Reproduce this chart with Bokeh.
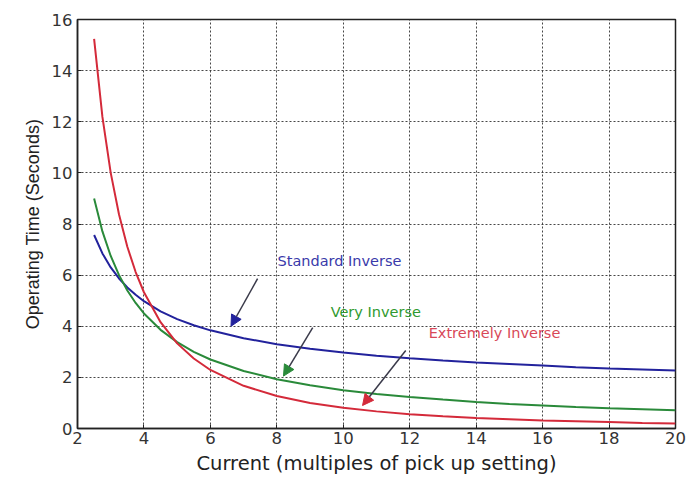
from bokeh.plotting import figure
from bokeh.models import Arrow, NormalHead, Label, FixedTicker, Range1d
from bokeh.embed import file_html
from bokeh.resources import INLINE

# Current, multiples of pick-up setting
current = [2.5, 2.75, 3, 3.25, 3.5, 3.75, 4, 4.5, 5, 5.5, 6, 7, 8, 9, 10,
           11, 12, 13, 14, 15, 16, 17, 18, 19, 20]
# Operating time (seconds)
standard_inverse = [7.57, 6.85, 6.30, 5.87, 5.52, 5.23, 4.98, 4.58, 4.28, 4.04,
                    3.84, 3.53, 3.30, 3.12, 2.97, 2.85, 2.75, 2.66, 2.58, 2.52,
                    2.46, 2.40, 2.35, 2.31, 2.27]
very_inverse = [9.0, 7.71, 6.75, 6.0, 5.4, 4.91, 4.5, 3.86, 3.38, 3.0,
                2.7, 2.25, 1.93, 1.69, 1.5, 1.35, 1.23, 1.13, 1.04, 0.96,
                0.9, 0.84, 0.79, 0.75, 0.71]
extremely_inverse = [15.24, 12.19, 10.0, 8.37, 7.11, 6.12, 5.33, 4.16, 3.33, 2.74,
                     2.29, 1.67, 1.27, 1.0, 0.81, 0.67, 0.56, 0.48, 0.41, 0.36,
                     0.31, 0.28, 0.25, 0.22, 0.20]

x_ticks = [2, 4, 6, 8, 10, 12, 14, 16, 18, 20]
y_ticks = [0, 2, 4, 6, 8, 10, 12, 14, 16]

series_names = ["Standard Inverse", "Very Inverse", "Extremely Inverse"]
series_colors = ["#22229c", "#2a8a3a", "#d42a3a"]
label_colors = ["#3a3aaa", "#2f9a2f", "#d84858"]
# annotation label anchor (data units)
label_x = [8.02, 9.62, 12.57]
label_y = [6.57, 4.54, 3.72]
# arrows: start -> end (data units)
arrow_x0 = [7.42, 9.08, 11.88]
arrow_y0 = [5.86, 3.95, 3.05]
arrow_x1 = [6.62, 8.2, 10.58]
arrow_y1 = [4.0, 2.05, 0.9]

FONT = "Liberation Sans"
WIDE = "DejaVu Sans"

p = figure(width=688, height=480, output_backend="svg", toolbar_location=None,
           x_range=Range1d(2, 20), y_range=Range1d(0, 16),
           min_border_left=77, min_border_right=13, min_border_top=19,
           min_border_bottom=52)

p.outline_line_color = "#222222"
p.outline_line_width = 1.5

for ax in (p.xaxis[0], p.yaxis[0]):
    ax.axis_line_color = "#222222"
    ax.axis_line_width = 1.5
    ax.major_tick_in = 4
    ax.major_tick_out = 0
    ax.major_tick_line_color = "#222222"
    ax.minor_tick_line_color = None
    ax.major_label_text_font = WIDE
    ax.major_label_text_font_size = "16.5px"
    ax.major_label_text_color = "#333333"
    ax.axis_label_text_font_style = "normal"
    ax.axis_label_text_color = "#222222"

p.xaxis.ticker = FixedTicker(ticks=x_ticks)
p.yaxis.ticker = FixedTicker(ticks=y_ticks)
p.xaxis.axis_label = "Current (multiples of pick up setting)"
p.yaxis.axis_label = "Operating Time (Seconds)"
p.xaxis.axis_label_text_font = WIDE
p.xaxis.axis_label_text_font_size = "19.5px"
p.yaxis.axis_label_text_font = FONT
p.yaxis.axis_label_text_font_size = "18px"
p.xaxis.major_label_standoff = 3
p.yaxis.major_label_standoff = 5
p.xaxis.axis_label_standoff = 5
p.yaxis.axis_label_standoff = 6

for g in (p.xgrid[0], p.ygrid[0]):
    g.grid_line_color = "#333333"
    g.grid_line_dash = "2 2"
    g.grid_line_width = 1
    g.grid_line_alpha = 0.9

for ys, c in zip([standard_inverse, very_inverse, extremely_inverse], series_colors):
    p.line(current, ys, line_color=c, line_width=2)

for i in range(3):
    p.add_layout(Arrow(end=NormalHead(size=11, fill_color=series_colors[i],
                                      line_color=series_colors[i]),
                       x_start=arrow_x0[i], y_start=arrow_y0[i],
                       x_end=arrow_x1[i], y_end=arrow_y1[i],
                       line_color="#3a3a4a", line_width=1.5))
    p.add_layout(Label(x=label_x[i], y=label_y[i], text=series_names[i],
                       text_color=label_colors[i], text_font=WIDE,
                       text_font_size="14.5px", text_baseline="middle",
                       text_align="left"))

open("out.html", "w").write(file_html(p, INLINE))
